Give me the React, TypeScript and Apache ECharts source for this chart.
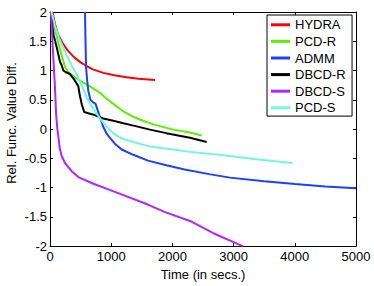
import React, { useEffect, useRef } from "react";
import * as echarts from "echarts";

const seriesNames = ["HYDRA", "PCD-R", "ADMM", "DBCD-R", "DBCD-S", "PCD-S"];
const seriesColors = ["#ff0000", "#5cf000", "#1f3fff", "#000000", "#b026ff", "#72f7dc"];

const hydra = [[40, 2.0], [80, 1.8], [130, 1.62], [200, 1.48], [290, 1.34], [400, 1.22], [500, 1.14], [577, 1.09], [700, 1.02], [871, 0.96], [1050, 0.92], [1250, 0.885], [1450, 0.86], [1716, 0.838]];
const pcdR = [[30, 2.0], [70, 1.75], [130, 1.5], [200, 1.22], [250, 1.05], [300, 0.97], [400, 0.89], [500, 0.82], [654, 0.73], [750, 0.66], [817, 0.62], [900, 0.54], [1035, 0.43], [1200, 0.3], [1361, 0.21], [1500, 0.15], [1688, 0.08], [2015, -0.01], [2288, -0.06], [2479, -0.11]];
const admm = [[572, 2.0], [580, 1.5], [590, 1.05], [610, 0.8], [626, 0.65], [660, 0.5], [700, 0.46], [745, 0.43], [780, 0.32], [817, 0.2], [870, 0.04], [926, -0.08], [980, -0.15], [1060, -0.25], [1171, -0.35], [1361, -0.44], [1600, -0.54], [1900, -0.62], [2200, -0.69], [2600, -0.77], [2941, -0.83], [3500, -0.89], [4003, -0.94], [4500, -0.98], [5000, -1.01]];
const dbcdR = [[25, 2.0], [40, 1.75], [60, 1.6], [109, 1.4], [163, 1.15], [191, 1.09], [218, 1.0], [260, 0.97], [327, 0.94], [400, 0.84], [463, 0.73], [490, 0.56], [520, 0.42], [560, 0.29], [626, 0.27], [700, 0.25], [871, 0.18], [1000, 0.15], [1198, 0.1], [1400, 0.05], [1634, -0.01], [1900, -0.07], [2288, -0.15], [2560, -0.22]];
const dbcdS = [[15, 2.0], [50, 1.3], [82, 0.7], [100, 0.25], [120, 0.0], [136, -0.12], [163, -0.35], [191, -0.46], [245, -0.58], [354, -0.72], [463, -0.82], [700, -0.93], [1050, -1.07], [1600, -1.29], [1879, -1.42], [2288, -1.57], [2669, -1.78], [3148, -2.0]];
const pcdS = [[25, 2.0], [82, 1.76], [150, 1.55], [272, 1.26], [350, 1.1], [436, 0.93], [520, 0.74], [599, 0.54], [680, 0.39], [763, 0.26], [870, 0.11], [950, 0.01], [1020, -0.06], [1100, -0.12], [1200, -0.17], [1361, -0.22], [1634, -0.3], [2015, -0.35], [2288, -0.39], [2600, -0.42], [2941, -0.46], [3400, -0.52], [3959, -0.58]];

const seriesData = [hydra, pcdR, admm, dbcdR, dbcdS, pcdS];

const xTitle = "Time (in secs.)";
const yTitle = "Rel. Func. Value Diff.";

const FONT = "'Liberation Sans', Arial, Helvetica, sans-serif";

export default function App() {
  const ref = useRef<HTMLDivElement>(null);
  useEffect(() => {
    if (!ref.current) return;
    const chart = echarts.init(ref.current, undefined, { renderer: "svg" });
    const axisLine = { show: true, onZero: false, lineStyle: { color: "#000", width: 1 } };
    const tick = { show: true, inside: true, length: 3, lineStyle: { color: "#000", width: 1 } };
    const plain = (v: number) => String(v);
    chart.setOption({
      animation: false,
      backgroundColor: "#fff",
      textStyle: { fontFamily: FONT },
      grid: { left: 50, right: 18, top: 12, bottom: 33, containLabel: false },
      xAxis: [
        {
          type: "value", min: 0, max: 5000, interval: 1000,
          axisLine, axisTick: tick, splitLine: { show: false },
          axisLabel: { color: "#000", fontSize: 13, fontFamily: FONT, margin: 4, formatter: plain },
          name: xTitle, nameLocation: "middle", nameGap: 18,
          nameTextStyle: { color: "#000", fontSize: 13, fontFamily: FONT },
        },
        {
          type: "value", position: "top", min: 0, max: 5000, interval: 1000,
          axisLine, axisTick: tick, axisLabel: { show: false }, splitLine: { show: false },
        },
      ],
      yAxis: [
        {
          type: "value", min: -2, max: 2, interval: 0.5,
          axisLine, axisTick: tick, splitLine: { show: false },
          axisLabel: { color: "#000", fontSize: 13, fontFamily: FONT, margin: 3, formatter: plain },
        },
        {
          type: "value", position: "right", min: -2, max: 2, interval: 0.5,
          axisLine, axisTick: tick, axisLabel: { show: false }, splitLine: { show: false },
        },
      ],
      graphic: [
        {
          type: "text", x: 11, y: 123, rotation: Math.PI / 2,
          style: { text: yTitle, fontSize: 13, fontFamily: FONT, fill: "#000", align: "center", verticalAlign: "middle" },
        },
      ],
      legend: {
        orient: "vertical", left: 267, top: 15,
        padding: [1.5, 6.5, 0, 4], itemGap: 0, itemWidth: 19, itemHeight: 3,
        icon: "rect", borderColor: "#000", borderWidth: 1, backgroundColor: "#fff",
        textStyle: { color: "#000", fontSize: 13, fontFamily: FONT, lineHeight: 16.6 },
        data: seriesNames,
      },
      series: seriesNames.map((name, i) => ({
        name, type: "line", data: seriesData[i], showSymbol: false, symbol: "none",
        lineStyle: { color: seriesColors[i], width: 2 }, itemStyle: { color: seriesColors[i] },
        clip: true, z: 2,
      })),
    });
    return () => chart.dispose();
  }, []);
  return <div ref={ref} style={{ position: "fixed", left: 0, top: 0, width: 374, height: 286 }} />;
}
